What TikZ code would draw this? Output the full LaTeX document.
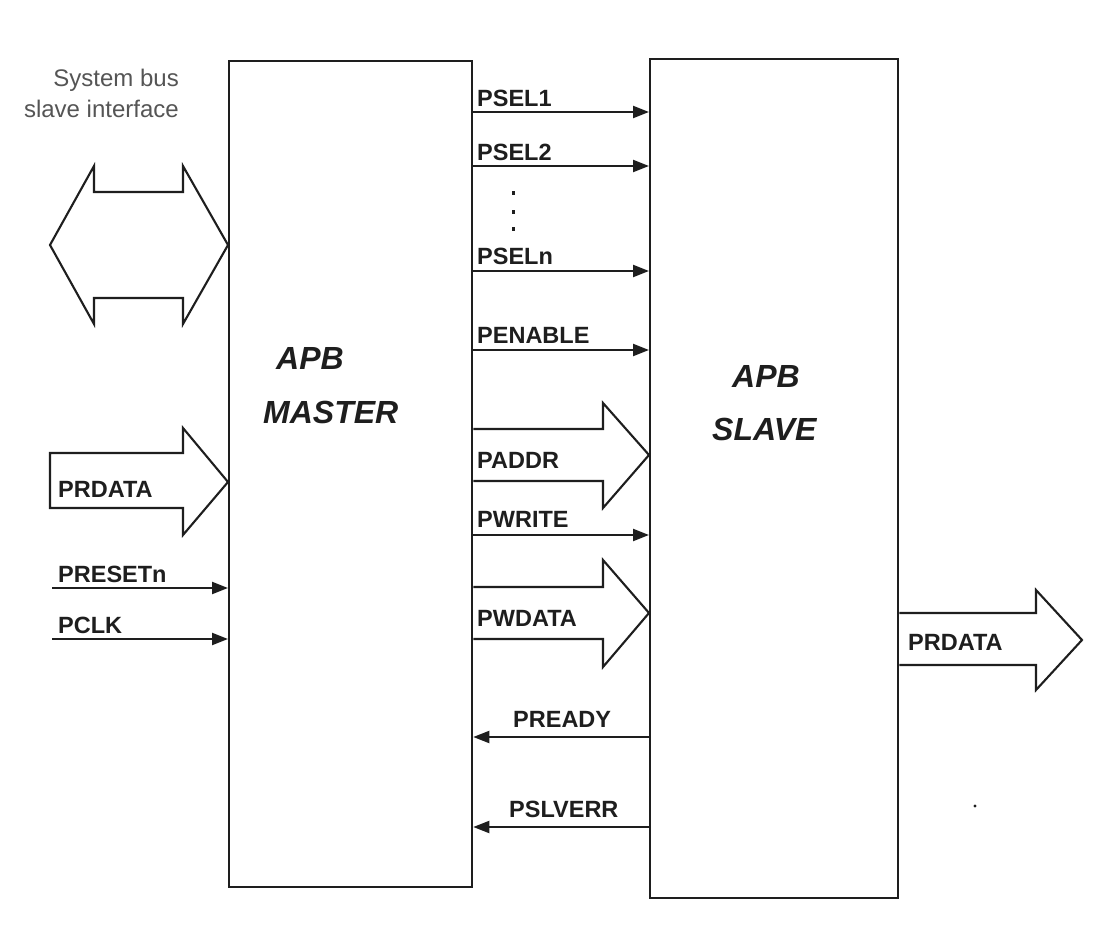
\documentclass[tikz,border=0pt]{standalone}
\usepackage{fontspec}
\setmainfont{Liberation Sans}
\usetikzlibrary{arrows.meta}
\definecolor{ink}{HTML}{1E1E1E}
\definecolor{graytxt}{HTML}{555555}
\begin{document}
\begin{tikzpicture}[x=1pt,y=-1pt,
  blk/.style={draw=ink, line width=2.3pt, anchor=north west, inner sep=0pt, fill=none},
  sig/.style={draw=ink, line width=2.1pt, -{Triangle[length=16pt,width=12pt]}},
  bus/.style={draw=ink, line width=2.1pt, line join=miter, fill=white},
  lbl/.style={font=\fontsize{23.5}{23.5}\selectfont\bfseries, text=ink, anchor=base west, inner sep=0pt},
  ttl/.style={font=\fontsize{32}{32}\selectfont\bfseries\itshape, text=ink, anchor=base west, inner sep=0pt},
  sysl/.style={font=\fontsize{24}{24}\selectfont, text=graytxt, anchor=base east, inner sep=0pt}]
\useasboundingbox[fill=white] (0,0) rectangle (1104,944);

% blocks
\node[blk, minimum width=243pt, minimum height=826pt] (master) at (228,60) {};
\node[blk, minimum width=248pt, minimum height=839pt] (slave) at (649,58) {};

\node[ttl] (tm1) at (276,370) {APB};
\node[ttl] (tm2) at (263,423) {MASTER};
\node[ttl] (ts1) at (732,387) {APB};
\node[ttl] (ts2) at (712,440) {SLAVE};

% system bus
\node[sysl] (sb1) at (179,87) {System bus};
\node[sysl] (sb2) at (179,118) {slave interface};
\draw[bus] (50,245) -- (94,166) -- (94,192) -- (183,192) -- (183,166) -- (master.west |- 0,245)
  -- (183,324) -- (183,298) -- (94,298) -- (94,324) -- cycle;

% left PRDATA bus
\draw[bus] (50,453) -- (183,453) -- (183,428) -- (master.west |- 0,482) -- (183,535) -- (183,508) -- (50,508) -- cycle;
\node[lbl] (lprdata) at (58,497) {PRDATA};

% left signals
\coordinate (prs) at (52,588);
\coordinate (pck) at (52,639);
\draw[sig] (prs) -- (master.west |- prs);
\node[lbl] (lpreset) at (58,582) {PRESETn};
\draw[sig] (pck) -- (master.west |- pck);
\node[lbl] (lpclk) at (58,633) {PCLK};

% master -> slave signals
\draw[sig] (master.east |- 0,112) -- (slave.west |- 0,112);
\node[lbl] (lpsel1) at (477,107) {PSEL1};
\draw[sig] (master.east |- 0,166) -- (slave.west |- 0,166);
\node[lbl] (lpsel2) at (477,161) {PSEL2};
\fill[ink] (511.5,191.5) rectangle ++(3.5,3.5);
\fill[ink] (511.5,210.5) rectangle ++(3.5,3.5);
\fill[ink] (511.5,227.5) rectangle ++(3.5,3.5);
\draw[sig] (master.east |- 0,271) -- (slave.west |- 0,271);
\node[lbl] (lpseln) at (477,265) {PSELn};
\draw[sig] (master.east |- 0,350) -- (slave.west |- 0,350);
\node[lbl] (lpen) at (477,343) {PENABLE};

\draw[bus] (master.east |- 0,429) -- (603,429) -- (603,403) -- (slave.west |- 0,455) -- (603,508) -- (603,481) -- (master.east |- 0,481);
\node[lbl] (lpaddr) at (477,468) {PADDR};

\draw[sig] (master.east |- 0,535) -- (slave.west |- 0,535);
\node[lbl] (lpwrite) at (477,527) {PWRITE};

\draw[bus] (master.east |- 0,587) -- (603,587) -- (603,560) -- (slave.west |- 0,613) -- (603,667) -- (603,639) -- (master.east |- 0,639);
\node[lbl] (lpwdata) at (477,626) {PWDATA};

% slave -> master
\draw[sig] (slave.west |- 0,737) -- (master.east |- 0,737);
\node[lbl] (lpready) at (513,727) {PREADY};
\draw[sig] (slave.west |- 0,827) -- (master.east |- 0,827);
\node[lbl] (lpslverr) at (509,817) {PSLVERR};

% right PRDATA bus
\draw[bus] (slave.east |- 0,613) -- (1036,613) -- (1036,590) -- (1082,640) -- (1036,690) -- (1036,665) -- (slave.east |- 0,665);
\node[lbl] (rprdata) at (908,650) {PRDATA};

\fill[ink] (975,806) circle (1.6pt);
\end{tikzpicture}
\end{document}
